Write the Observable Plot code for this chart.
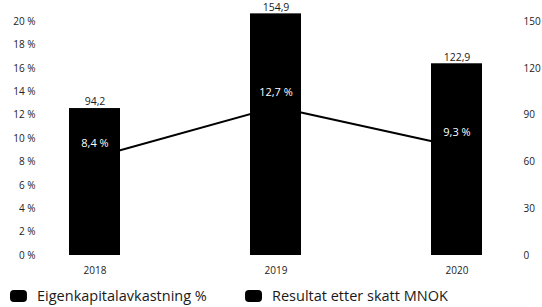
<!DOCTYPE html>
<html>
<head>
<meta charset="utf-8">
<script src="https://cdn.jsdelivr.net/npm/d3@7"></script>
<script src="https://cdn.jsdelivr.net/npm/@observablehq/plot@0.6"></script>
<style>
  html, body { margin: 0; padding: 0; background: #fff; }
  body { width: 542px; height: 307px; overflow: hidden; font-family: "Open Sans", "Noto Sans", sans-serif; }
  #legend { height: 23px; font-size: 14.5px; line-height: 18px; color: #1a1a1a; position: relative; }
  .item { position: absolute; display: flex; align-items: center; top: 3px; height: 18px; white-space: nowrap; }
  .sw { width: 17px; height: 12px; background: #000; border-radius: 4px; margin-right: 10px; }
</style>
</head>
<body>
<div id="chart"></div>
<div id="legend"></div>
<script>
const years = ["2018", "2019", "2020"];
const resultat = [94.2, 154.9, 122.9];        // Resultat etter skatt MNOK (right axis)
const ekAvkastning = [8.4, 12.7, 9.3];        // Eigenkapitalavkastning % (left axis)
const leftTicks = [0, 2, 4, 6, 8, 10, 12, 14, 16, 18, 20];
const rightTicks = [0, 30, 60, 90, 120, 150];
const seriesNames = ["Eigenkapitalavkastning %", "Resultat etter skatt MNOK"];

const ratio = 150 / 20; // left axis 0–20 % maps onto right axis 0–150
const fmt = v => v.toFixed(1).replace(".", ",");

const data = years.map((y, i) => ({year: y, res: resultat[i], pct: ekAvkastning[i], pctScaled: ekAvkastning[i] * ratio}));

const chart = Plot.plot({
  width: 542,
  height: 284,
  marginTop: 21,
  marginBottom: 29,
  marginLeft: 40,
  marginRight: 22,
  style: {fontFamily: "'Open Sans', 'Noto Sans', sans-serif", fontSize: "10px", color: "#222", background: "#fff"},
  x: {domain: years, range: [50, 501], paddingInner: 0.72, paddingOuter: 0.1},
  y: {domain: [0, 150]},
  marks: [
    Plot.axisY(leftTicks.map(t => t * ratio), {anchor: "left", tickSize: 0, tickPadding: 5, tickFormat: d => `${Math.round(d / ratio)} %`, label: null}),
    Plot.axisY(rightTicks, {anchor: "right", tickSize: 0, tickPadding: 3, label: null}),
    Plot.axisX({tickSize: 0, tickPadding: 11, label: null}),
    Plot.line(data, {x: "year", y: "pctScaled", stroke: "#000", strokeWidth: 2}),
    Plot.barY(data, {x: "year", y: "res", fill: "#000"}),
    Plot.text(data, {x: "year", y: "res", text: d => fmt(d.res), dy: -6.5, fontSize: 10.5, fill: "#1a1a1a"}),
    Plot.text(data, {x: "year", y: "pctScaled", text: d => fmt(d.pct) + " %", dy: -14, fontSize: 11, fill: "#fff"})
  ]
});
document.getElementById("chart").appendChild(chart);

const legend = document.getElementById("legend");
const lefts = [10, 245];
seriesNames.forEach((name, i) => {
  const it = document.createElement("div");
  it.className = "item";
  it.style.left = lefts[i] + "px";
  it.innerHTML = `<span class="sw"></span><span>${name}</span>`;
  legend.appendChild(it);
});
</script>
</body>
</html>
